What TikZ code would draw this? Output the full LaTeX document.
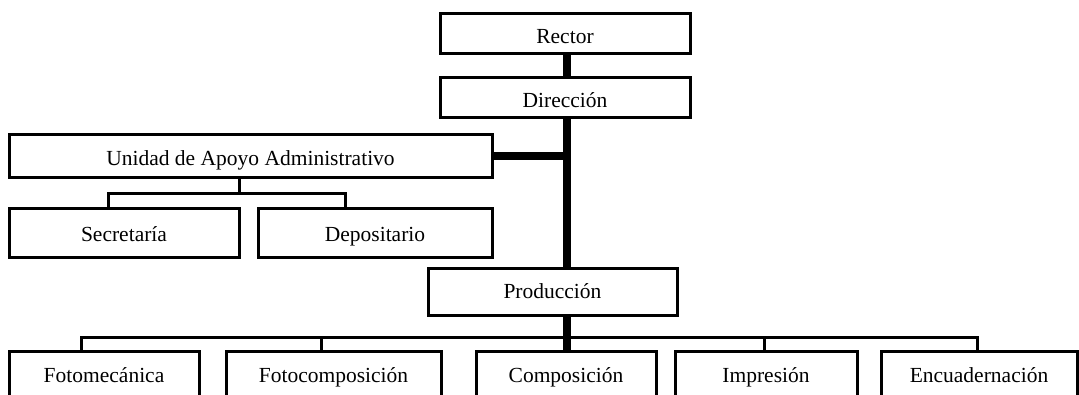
\documentclass[tikz,border=0pt]{standalone}
\usepackage{fontspec}
\setmainfont{Liberation Serif}
\usetikzlibrary{shadows}
% box caption, with its baseline set a fixed distance below the box centre
\newcommand\boxtext[2][9pt]{\raisebox{-#1}{#2}}
\begin{document}
\begin{tikzpicture}[x=1pt,y=-1pt,
  unit/.style={draw=black, fill=white, line width=3pt, rectangle,
    inner sep=0pt, text height=0pt, text depth=0pt,
    font=\fontsize{21.5}{24}\selectfont,
    general shadow={fill=black, shadow xshift=1.2pt, shadow yshift=-1.2pt}},
  trunk/.style={line width=8pt},
  branch/.style={line width=3pt}]
\useasboundingbox (0,0) rectangle (1079,394);
\clip (0,0) rectangle (1079,394);
\fill[white] (0,0) rectangle (1079,394);

% vertical axis of the chart
\coordinate (spine) at (567,0);

% top levels
\node[unit, minimum width=250pt, minimum height=40pt] (rector) at (565,33) {\boxtext[10pt]{Rector}};
\node[unit, minimum width=250pt, minimum height=40pt] (dir) at (565,97) {\boxtext[10pt]{Dirección}};

% administrative support unit and its sections
\node[unit, minimum width=483pt, minimum height=43pt] (uaa) at (250.5,155.5) {\boxtext[9.5pt]{Unidad de Apoyo Administrativo}};
\node[unit, minimum width=230pt, minimum height=49pt] (sec) at (124,232.5) {\boxtext[9pt]{Secretaría}};
\node[unit, minimum width=234pt, minimum height=49pt] (dep) at (375,232.5) {\boxtext[9pt]{Depositario}};

% production and its workshops
\node[unit, minimum width=249pt, minimum height=47pt] (prod) at (552.5,291.5) {\boxtext[7pt]{Producción}};
\node[unit, minimum width=190pt, minimum height=56pt] (fm) at (104,379) {\boxtext[3pt]{Fotomecánica}};
\node[unit, minimum width=215pt, minimum height=56pt] (fc) at (333.5,379) {\boxtext[3pt]{Fotocomposición}};
\node[unit, minimum width=180pt, minimum height=56pt] (comp) at (566,379) {\boxtext[3pt]{Composición}};
\node[unit, minimum width=182pt, minimum height=56pt] (imp) at (766,379) {\boxtext[3pt]{Impresión}};
\node[unit, minimum width=196pt, minimum height=56pt] (enc) at (979,379) {\boxtext[3pt]{Encuadernación}};

% main line of command
\draw[trunk] (rector.south -| spine) -- (dir.north -| spine);
\draw[trunk] (dir.south -| spine) -- (prod.north -| spine);
\draw[trunk] (uaa.east) -- (uaa.east -| spine);

% branches under the support unit
\coordinate (uaadrop) at (239,193);
\coordinate (secdrop) at (108,193);
\coordinate (depdrop) at (345,193);
\draw[branch] (uaa.south -| uaadrop) -- (uaadrop);
\draw[branch] (secdrop |- sec.north) -- (secdrop) -- (depdrop) -- (depdrop |- dep.north);

% branches under production
\coordinate (fmdrop) at (81,337);
\coordinate (fcdrop) at (321,337);
\coordinate (impdrop) at (764,337);
\coordinate (encdrop) at (977,337);
\draw[branch] (fmdrop |- fm.north) -- (fmdrop) -- (encdrop) -- (encdrop |- enc.north);
\draw[branch] (fcdrop) -- (fcdrop |- fc.north);
\draw[branch] (impdrop) -- (impdrop |- imp.north);
\draw[trunk] (prod.south -| spine) -- (comp.north -| spine);
\end{tikzpicture}
\end{document}
